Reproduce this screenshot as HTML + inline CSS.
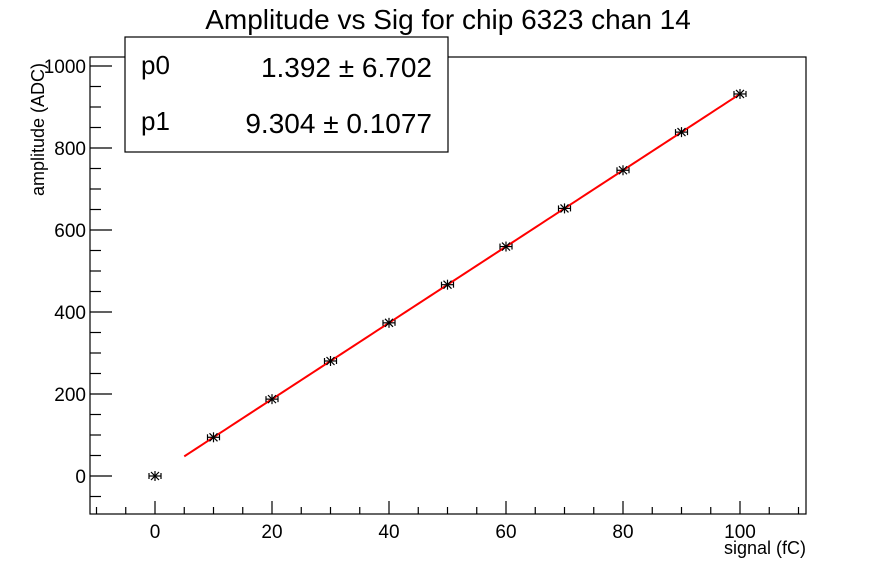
<!DOCTYPE html>
<html><head><meta charset="utf-8"><style>
body{margin:0;background:#fff;}
svg{display:block;font-family:"Liberation Sans",sans-serif;}
</style></head><body>
<svg width="896" height="572" viewBox="0 0 896 572" xmlns="http://www.w3.org/2000/svg">
<rect width="896" height="572" fill="#fff"/>
<text x="448" y="29" font-size="28" text-anchor="middle">Amplitude vs Sig for chip 6323 chan 14</text>
<rect x="90" y="57" width="716" height="457" fill="none" stroke="#000" stroke-width="1.2"/>
<g stroke="#000" stroke-width="1.2" id="ticks"></g>
<g font-size="19" id="labels"></g>
<text x="806" y="554" font-size="18" text-anchor="end">signal (fC)</text>
<text transform="translate(44,196) rotate(-90)" font-size="18">amplitude (ADC)</text>
<polyline id="fit" fill="none" stroke="#f00" stroke-width="2"/>
<g id="pts" stroke="#000" stroke-width="1.2"></g>
<rect x="125" y="37" width="323" height="115" fill="#fff" stroke="#000" stroke-width="1.2"/>
<text x="141" y="74" font-size="26">p0</text>
<text x="432" y="77" font-size="28" text-anchor="end">1.392 ± 6.702</text>
<text x="141" y="130" font-size="26">p1</text>
<text x="432" y="133" font-size="28" text-anchor="end">9.304 ± 0.1077</text>
<script>
var ns="http://www.w3.org/2000/svg";
function X(v){return 155+v*5.85;}
function Y(v){return 476-v*0.41;}
var t=document.getElementById("ticks"),l=document.getElementById("labels");
function ln(g,a,b,c,d){var e=document.createElementNS(ns,"line");e.setAttribute("x1",a);e.setAttribute("y1",b);e.setAttribute("x2",c);e.setAttribute("y2",d);g.appendChild(e);}
function tx(s,x,y,a){var e=document.createElementNS(ns,"text");e.setAttribute("x",x);e.setAttribute("y",y);e.setAttribute("text-anchor",a);e.textContent=s;l.appendChild(e);}
for(var v=-10;v<=110;v+=5){var x=X(v);var M=v%20==0;ln(t,x,514,x,514-(M?13:7));if(M)tx(v,x,538,"middle");}
for(var v=-50;v<=1000;v+=50){var y=Y(v);var M=v%200==0;ln(t,90,y,90+(M?22:11),y);if(M)tx(v,86,y+7,"end");}
var p=[];for(var v=5;v<=100;v+=1)p.push(X(v)+","+Y(1.392+9.304*v));
document.getElementById("fit").setAttribute("points",p.join(" "));
var g=document.getElementById("pts");
for(var v=0;v<=100;v+=10){var x=X(v),y=Y(v==0?0:1.392+9.304*v);
ln(g,x-6,y,x+6,y);ln(g,x-6,y-3,x-6,y+3);ln(g,x+6,y-3,x+6,y+3);ln(g,x,y-5,x,y+5);ln(g,x-4,y-4,x+4,y+4);ln(g,x-4,y+4,x+4,y-4);}
</script>
</svg>
</body></html>
